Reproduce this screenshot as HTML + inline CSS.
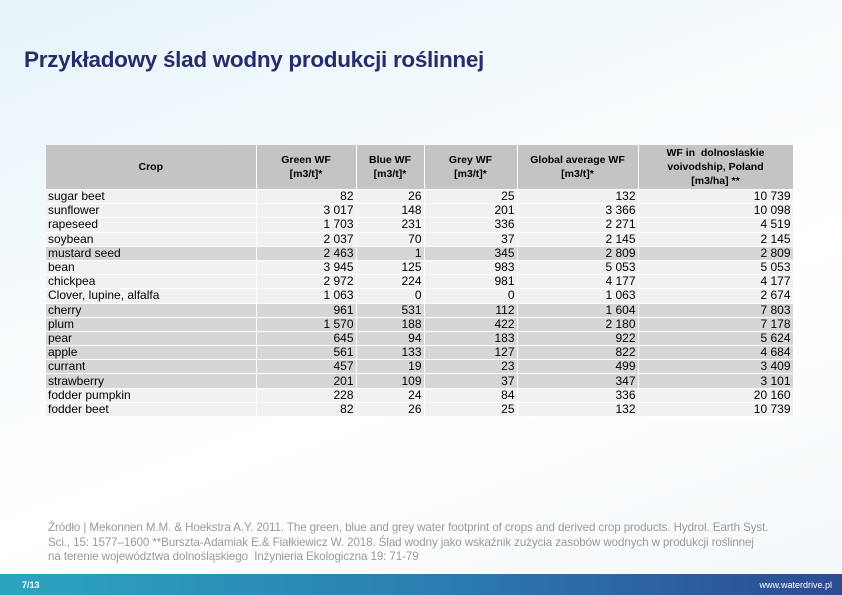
<!DOCTYPE html><html><head><meta charset="utf-8"><style>
body{margin:0;width:842px;height:595px;overflow:hidden;position:relative;font-family:"Liberation Sans",sans-serif;background:linear-gradient(160deg,#e6f3fa 0%,#f6fbfd 35%,#ffffff 60%,#f3f8fb 100%)}
h1{position:absolute;left:24px;top:47px;margin:0;font-size:22.5px;font-weight:bold;color:#262d6b;letter-spacing:-0.3px}
table{position:absolute;left:46px;top:145px;border-collapse:collapse;font-size:12px;color:#000}
td,th{padding:0 2px;border-right:1px solid #fff;border-bottom:1px solid #fff;height:13.2px;line-height:13px;white-space:nowrap}
th{background:#c4c4c4;height:44px;font-size:10.5px;font-weight:bold;line-height:14px;text-align:center}
td{background:#f1f1f1;text-align:right}
td:first-child{text-align:left}
tr.g td{background:#d6d6d6}
.src{position:absolute;left:48px;top:521px;font-size:11.6px;line-height:14.5px;color:#9a9a9a;white-space:nowrap;letter-spacing:-0.1px}
.bar{position:absolute;left:0;top:574px;width:842px;height:21px;background:linear-gradient(90deg,#2ba5bf,#2b7fb2 50%,#2d4b91);color:#fff;font-size:9px}
.bar span{position:absolute;top:6px}
</style></head><body>
<h1>Przykładowy ślad wodny produkcji roślinnej</h1>
<table>
<colgroup><col style="width:210px"><col style="width:100px"><col style="width:68px"><col style="width:93px"><col style="width:121px"><col style="width:155px"></colgroup>
<tr><th>Crop</th><th>Green WF<br>[m3/t]*</th><th>Blue WF<br>[m3/t]*</th><th>Grey WF<br>[m3/t]*</th><th>Global average WF<br>[m3/t]*</th><th>WF in &nbsp;dolnoslaskie<br>voivodship, Poland<br>[m3/ha] **</th></tr>
<tr><td>sugar beet</td><td>82</td><td>26</td><td>25</td><td>132</td><td>10 739</td></tr>
<tr><td>sunflower</td><td>3 017</td><td>148</td><td>201</td><td>3 366</td><td>10 098</td></tr>
<tr><td>rapeseed</td><td>1 703</td><td>231</td><td>336</td><td>2 271</td><td>4 519</td></tr>
<tr><td>soybean</td><td>2 037</td><td>70</td><td>37</td><td>2 145</td><td>2 145</td></tr>
<tr class="g"><td>mustard seed</td><td>2 463</td><td>1</td><td>345</td><td>2 809</td><td>2 809</td></tr>
<tr><td>bean</td><td>3 945</td><td>125</td><td>983</td><td>5 053</td><td>5 053</td></tr>
<tr><td>chickpea</td><td>2 972</td><td>224</td><td>981</td><td>4 177</td><td>4 177</td></tr>
<tr><td>Clover, lupine, alfalfa</td><td>1 063</td><td>0</td><td>0</td><td>1 063</td><td>2 674</td></tr>
<tr class="g"><td>cherry</td><td>961</td><td>531</td><td>112</td><td>1 604</td><td>7 803</td></tr>
<tr class="g"><td>plum</td><td>1 570</td><td>188</td><td>422</td><td>2 180</td><td>7 178</td></tr>
<tr class="g"><td>pear</td><td>645</td><td>94</td><td>183</td><td>922</td><td>5 624</td></tr>
<tr class="g"><td>apple</td><td>561</td><td>133</td><td>127</td><td>822</td><td>4 684</td></tr>
<tr class="g"><td>currant</td><td>457</td><td>19</td><td>23</td><td>499</td><td>3 409</td></tr>
<tr class="g"><td>strawberry</td><td>201</td><td>109</td><td>37</td><td>347</td><td>3 101</td></tr>
<tr><td>fodder pumpkin</td><td>228</td><td>24</td><td>84</td><td>336</td><td>20 160</td></tr>
<tr><td>fodder beet</td><td>82</td><td>26</td><td>25</td><td>132</td><td>10 739</td></tr>
</table>
<div class="src">Źródło | Mekonnen M.M. &amp; Hoekstra A.Y. 2011. The green, blue and grey water footprint of crops and derived crop products. Hydrol. Earth Syst.<br>Sci., 15: 1577–1600 **Burszta-Adamiak E.&amp; Fiałkiewicz W. 2018. Ślad wodny jako wskaźnik zużycia zasobów wodnych w produkcji roślinnej<br>na terenie województwa dolnośląskiego &nbsp;Inżynieria Ekologiczna 19: 71-79</div>
<div class="bar"><span style="left:22px;font-weight:bold">7/13</span><span style="right:10px">www.waterdrive.pl</span></div>
</body></html>
